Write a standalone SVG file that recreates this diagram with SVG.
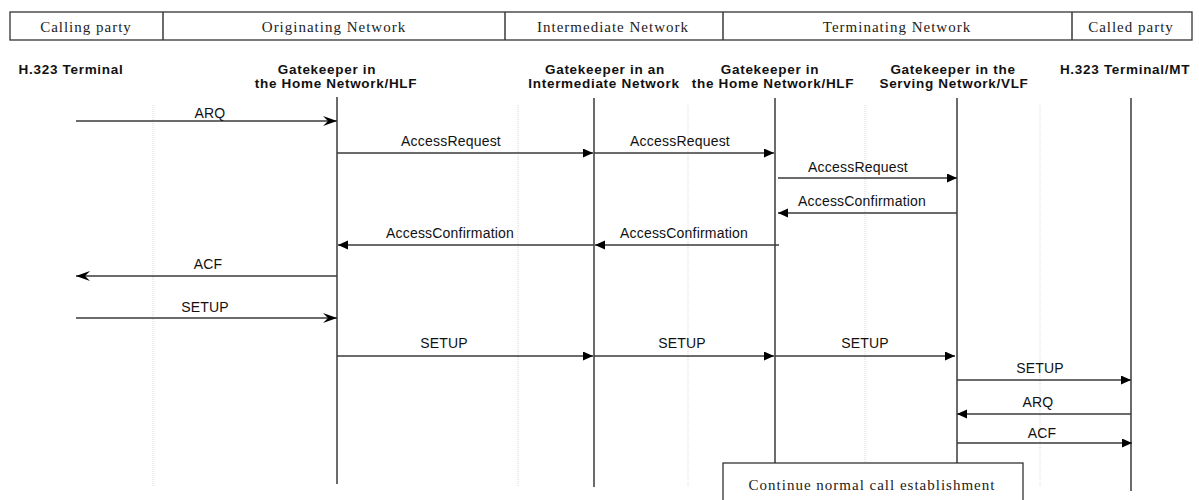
<svg xmlns="http://www.w3.org/2000/svg" width="1199" height="500" viewBox="0 0 1199 500">
<style>
.hdr{font-family:"Liberation Serif","Times New Roman",serif;font-size:15px;letter-spacing:1px;fill:#222;text-anchor:middle}
.col{font-family:"Liberation Sans",Arial,sans-serif;font-size:13.5px;font-weight:bold;letter-spacing:0.7px;fill:#111;text-anchor:middle}
.lbl{font-family:"Liberation Sans",Arial,sans-serif;font-size:14px;letter-spacing:0.2px;fill:#111;text-anchor:middle}
.life{stroke:#3a3a3a;stroke-width:1.5;fill:none}
.grid{stroke:#d8d8d8;stroke-width:1;stroke-dasharray:1 1;fill:none}
.msg{stroke:#3a3a3a;stroke-width:1.5;fill:none}
.fill{marker-end:url(#tri)}
.open{marker-end:url(#stealth)}
.box{fill:#fff;stroke:#333;stroke-width:1.3}
</style>
<defs>
<marker id="tri" markerUnits="userSpaceOnUse" markerWidth="11" markerHeight="10" refX="10" refY="4.5" orient="auto">
<path d="M0,0 L10,4.5 L0,9 z" fill="#000"/>
</marker>
<marker id="stealth" markerUnits="userSpaceOnUse" markerWidth="16" markerHeight="11" refX="14" refY="5" orient="auto">
<path d="M0,0 L14,5 L0,10 L5,5 z" fill="#000"/>
</marker>
</defs>
<rect width="1199" height="500" fill="#fff"/>

<g id="header">
<rect class="box" x="10" y="12" width="1182" height="28"/>
<line class="life" x1="163" y1="12" x2="163" y2="40"/>
<line class="life" x1="505" y1="12" x2="505" y2="40"/>
<line class="life" x1="723" y1="12" x2="723" y2="40"/>
<line class="life" x1="1072" y1="12" x2="1072" y2="40"/>
<text class="hdr" x="86" y="32">Calling party</text>
<text class="hdr" x="334" y="32">Originating Network</text>
<text class="hdr" x="613" y="32">Intermediate Network</text>
<text class="hdr" x="897" y="32">Terminating Network</text>
<text class="hdr" x="1131" y="32">Called party</text>
</g>

<g id="grid">
<line class="grid" x1="153" y1="105" x2="153" y2="487"/>
<line class="grid" x1="518" y1="105" x2="518" y2="487"/>
<line class="grid" x1="688" y1="105" x2="688" y2="487"/>
<line class="grid" x1="865" y1="105" x2="865" y2="487"/>
<line class="grid" x1="1040" y1="105" x2="1040" y2="487"/>
</g>

<g id="terminal-a">
<text class="col" x="71" y="74">H.323 Terminal</text>
</g>
<g id="gk-orig">
<text class="col" x="327" y="74">Gatekeeper in</text>
<text class="col" x="336" y="88">the Home Network/HLF</text>
<line class="life" x1="337" y1="97" x2="337" y2="484"/>
</g>
<g id="gk-inter">
<text class="col" x="605" y="74">Gatekeeper in an</text>
<text class="col" x="604" y="88">Intermediate Network</text>
<line class="life" x1="594" y1="98" x2="594" y2="487"/>
</g>
<g id="gk-home">
<text class="col" x="770" y="74">Gatekeeper in</text>
<text class="col" x="773" y="88">the Home Network/HLF</text>
<line class="life" x1="775" y1="98" x2="775" y2="463"/>
</g>
<g id="gk-serving">
<text class="col" x="953" y="74">Gatekeeper in the</text>
<text class="col" x="954" y="88">Serving Network/VLF</text>
<line class="life" x1="957" y1="98" x2="957" y2="463"/>
</g>
<g id="terminal-b">
<text class="col" x="1125" y="74">H.323 Terminal/MT</text>
<line class="life" x1="1131" y1="98" x2="1131" y2="491"/>
</g>

<g id="connectors">
<line class="msg open" x1="76" y1="121" x2="337" y2="121"/>
<text class="lbl" x="210" y="118">ARQ</text>

<line class="msg fill" x1="337" y1="153" x2="593" y2="153"/>
<text class="lbl" x="451" y="146">AccessRequest</text>
<line class="msg fill" x1="594" y1="153" x2="774" y2="153"/>
<text class="lbl" x="680" y="146">AccessRequest</text>
<line class="msg fill" x1="778" y1="178" x2="957" y2="178"/>
<text class="lbl" x="858" y="172">AccessRequest</text>

<line class="msg fill" x1="957" y1="213" x2="778" y2="213"/>
<text class="lbl" x="862" y="206">AccessConfirmation</text>
<line class="msg fill" x1="779" y1="245" x2="595" y2="245"/>
<text class="lbl" x="684" y="238">AccessConfirmation</text>
<line class="msg fill" x1="594" y1="245" x2="338" y2="245"/>
<text class="lbl" x="450" y="238">AccessConfirmation</text>

<line class="msg open" x1="337" y1="276" x2="76" y2="276"/>
<text class="lbl" x="208" y="269">ACF</text>

<line class="msg open" x1="76" y1="318" x2="337" y2="318"/>
<text class="lbl" x="205" y="312">SETUP</text>

<line class="msg fill" x1="337" y1="356" x2="593" y2="356"/>
<text class="lbl" x="444" y="348">SETUP</text>
<line class="msg fill" x1="594" y1="356" x2="774" y2="356"/>
<text class="lbl" x="682" y="348">SETUP</text>
<line class="msg fill" x1="775" y1="356" x2="955" y2="356"/>
<text class="lbl" x="865" y="348">SETUP</text>

<line class="msg fill" x1="957" y1="380" x2="1131" y2="380"/>
<text class="lbl" x="1040" y="373">SETUP</text>
<line class="msg fill" x1="1131" y1="414" x2="957" y2="414"/>
<text class="lbl" x="1038" y="407">ARQ</text>
<line class="msg fill" x1="957" y1="443" x2="1132" y2="443"/>
<text class="lbl" x="1042" y="438">ACF</text>
</g>

<g id="continue">
<rect class="box" x="723" y="463" width="300" height="40"/>
<text class="hdr" x="872" y="490">Continue normal call establishment</text>
</g>
</svg>
